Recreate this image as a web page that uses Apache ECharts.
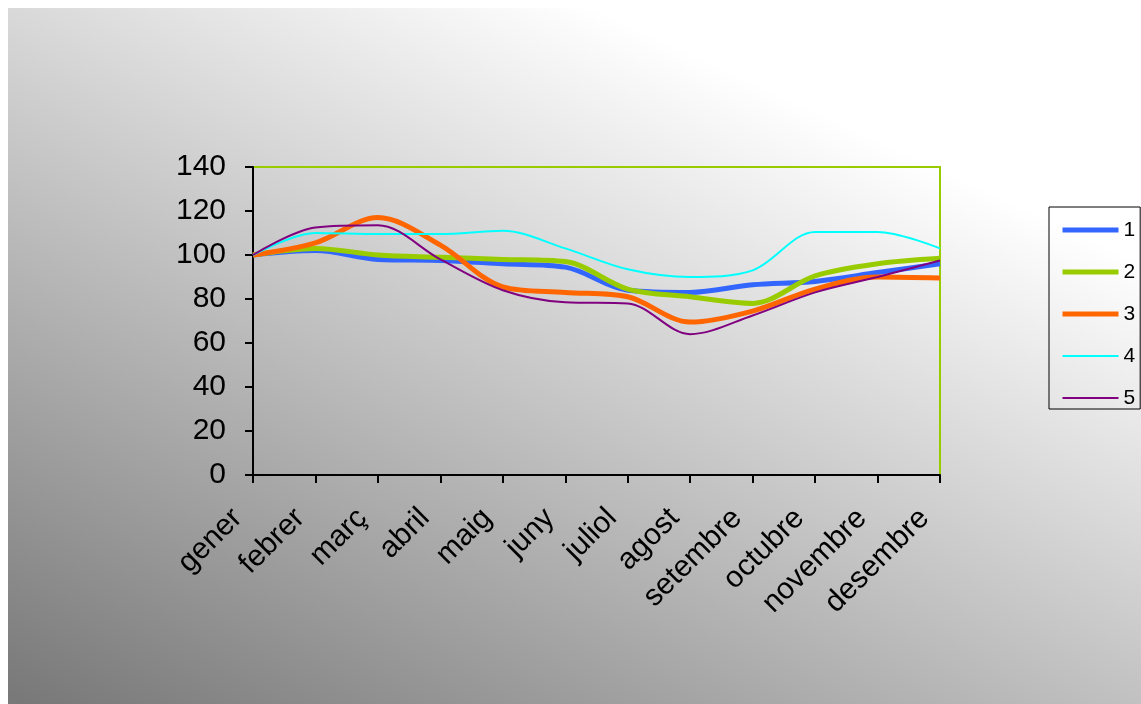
<!DOCTYPE html>
<html><head><meta charset="utf-8">
<script src="https://cdn.jsdelivr.net/npm/echarts@6/dist/echarts.min.js"></script>
<style>html,body{margin:0;padding:0;background:#fff;overflow:hidden}#c{width:1141px;height:704px}</style>
</head><body><div id="c"></div>
<script>
const categories = ['gener','febrer','març','abril','maig','juny','juliol','agost','setembre','octubre','novembre','desembre'];
const series1 = [100, 102, 98, 97.5, 96, 94.5, 84, 83, 86.5, 88, 92, 96];
const series2 = [100, 103, 100, 99, 98, 97, 84.5, 81, 78, 90.5, 96, 98.5];
const series3 = [100, 105.5, 117, 104.5, 85.5, 83, 81, 69.5, 74.5, 84.5, 90, 89.5];
const series4 = [100, 110, 109.5, 109.5, 111, 103, 93.5, 90, 93, 110.5, 110.5, 103];
const series5 = [100, 112.5, 113.5, 98, 84, 78.5, 78, 64, 72.5, 83, 90, 97.5];
const seriesNames = ['1', '2', '3', '4', '5'];
const seriesColors = ['#3366FF', '#99CC00', '#FF6600', '#00FFFF', '#800080'];
const seriesWidths = [5, 5, 5, 2, 2];
const yMin = 0, yMax = 140, yStep = 20;

const font = "'Liberation Sans', Arial, sans-serif";
const allData = [series1, series2, series3, series4, series5];

const chart = echarts.init(document.getElementById('c'));
chart.setOption({
  animation: false,
  graphic: {
    elements: [{
      type: 'rect', z: -10, silent: true,
      shape: { x: 8, y: 8, width: 1133, height: 696 },
      style: {
        fill: {
          type: 'linear', global: true, x: 10, y: 700, x2: 378, y2: -93,
          colorStops: [{ offset: 0, color: '#787878' }, { offset: 1, color: '#ffffff' }]
        }
      }
    }]
  },
  grid: {
    left: 253, top: 167, width: 687, height: 308,
    show: true, borderColor: '#99CC00', borderWidth: 2, backgroundColor: 'transparent',
    containLabel: false, outerBoundsMode: 'none'
  },
  legend: {
    orient: 'vertical', left: 1049, top: 207,
    padding: [12, 5, 0, 11], itemGap: 20, itemWidth: 56, itemHeight: 14,
    borderColor: '#000', borderWidth: 1, backgroundColor: 'transparent',
    itemStyle: { opacity: 0, borderWidth: 0 },
    textStyle: { fontFamily: font, fontSize: 21, color: '#000', lineHeight: 22 },
    data: seriesNames.map((n, i) => ({ name: n, lineStyle: { width: seriesWidths[i], color: seriesColors[i] }, itemStyle: { opacity: 0 } }))
  },
  xAxis: {
    type: 'category', data: categories, boundaryGap: false,
    axisLine: { lineStyle: { color: '#000', width: 2 } },
    axisTick: { show: true, length: 8, lineStyle: { color: '#000', width: 2 } },
    axisLabel: { interval: 0, rotate: 45, margin: 23, padding: [0, 22, 0, 0], fontFamily: font, fontSize: 30, color: '#000' },
    splitLine: { show: false }
  },
  yAxis: {
    type: 'value', min: yMin, max: yMax, interval: yStep,
    axisLine: { show: true, lineStyle: { color: '#000', width: 2 } },
    axisTick: { show: true, length: 8, lineStyle: { color: '#000', width: 2 } },
    axisLabel: { margin: 27, fontFamily: font, fontSize: 30, color: '#000' },
    splitLine: { show: false }
  },
  series: seriesNames.map((n, i) => ({
    name: n, type: 'line', data: allData[i], smooth: 0.33,
    symbol: 'none', showSymbol: false,
    lineStyle: { color: seriesColors[i], width: seriesWidths[i] },
    itemStyle: { color: seriesColors[i] }
  }))
});
</script></body></html>
